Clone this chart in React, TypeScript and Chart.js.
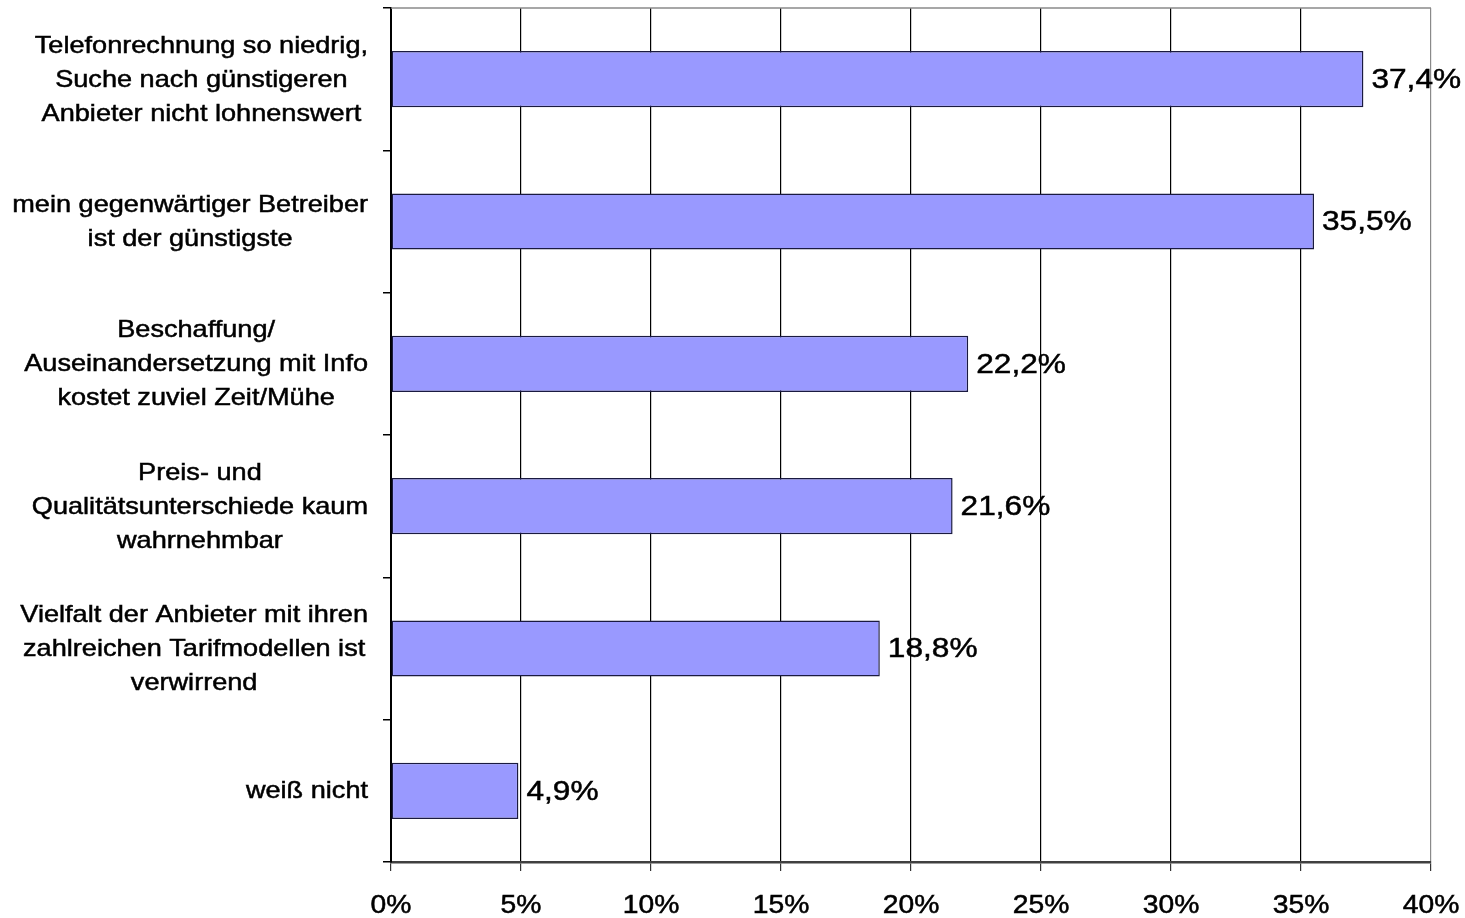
import React, { useEffect, useRef } from "react";
import { Chart, registerables } from "chart.js";

Chart.register(...registerables);

const categories: string[][] = [
  ["Telefonrechnung so niedrig,", "Suche nach günstigeren", "Anbieter nicht lohnenswert"],
  ["mein gegenwärtiger Betreiber", "ist der günstigste"],
  ["Beschaffung/", "Auseinandersetzung mit Info", "kostet zuviel Zeit/Mühe"],
  ["Preis- und", "Qualitätsunterschiede kaum", "wahrnehmbar"],
  ["Vielfalt der Anbieter mit ihren", "zahlreichen Tarifmodellen ist", "verwirrend"],
  ["weiß nicht"],
];
const values: number[] = [37.4, 35.5, 22.2, 21.6, 18.8, 4.9];
const xMin = 0;
const xMax = 40;
const xStep = 5;

const FONT = '"Liberation Sans", Arial, sans-serif';
const SX = 1.13;
const LH = 34;

function drawText(ctx: CanvasRenderingContext2D, text: string, x: number, y: number, align: CanvasTextAlign) {
  ctx.save();
  ctx.translate(x, y);
  ctx.scale(SX, 1);
  ctx.textAlign = align;
  ctx.fillText(text, 0, 0);
  ctx.lineWidth = 0.5;
  ctx.strokeStyle = "#000";
  ctx.strokeText(text, 0, 0);
  ctx.restore();
}

const textPlugin = {
  id: "textPlugin",
  afterDraw(chart: any) {
    const ctx: CanvasRenderingContext2D = chart.ctx;
    const xs = chart.scales.x;
    const ys = chart.scales.y;
    const area = chart.chartArea;
    ctx.save();
    // top border
    ctx.strokeStyle = "#8a8a8a";
    ctx.lineWidth = 1.5;
    ctx.beginPath();
    ctx.moveTo(area.left, area.top);
    ctx.lineTo(area.right, area.top);
    ctx.stroke();

    ctx.fillStyle = "#000";
    ctx.textBaseline = "middle";
    // category labels
    ctx.font = `24px ${FONT}`;
    categories.forEach((lines, i) => {
      const cy = ys.getPixelForValue(i);
      const w = Math.max(...lines.map((l) => ctx.measureText(l).width)) * SX;
      const cx = xs.left - 23 - w / 2;
      lines.forEach((l, j) => {
        const ly = cy + (j - (lines.length - 1) / 2) * LH + 1;
        drawText(ctx, l, cx, ly, "center");
      });
    });
    // value labels
    ctx.font = `28px ${FONT}`;
    const meta = chart.getDatasetMeta(0);
    meta.data.forEach((bar: any, i: number) => {
      const label = values[i].toFixed(1).replace(".", ",") + "%";
      drawText(ctx, label, bar.x + 8, bar.y + 1, "left");
    });
    // x tick labels
    ctx.font = `25px ${FONT}`;
    xs.ticks.forEach((t: any) => {
      drawText(ctx, `${t.value}%`, xs.getPixelForValue(t.value), xs.top + 44, "center");
    });
    ctx.restore();
  },
};

export default function App() {
  const ref = useRef<HTMLCanvasElement | null>(null);
  useEffect(() => {
    if (!ref.current) return;
    const chart = new Chart(ref.current, {
      type: "bar",
      data: {
        labels: categories.map((c) => c.join(" ")),
        datasets: [
          {
            data: values,
            backgroundColor: "#9999ff",
            borderColor: "#1a1a40",
            borderWidth: 1.5,
            borderSkipped: false,
            barPercentage: 0.395,
            categoryPercentage: 1,
          },
        ],
      },
      options: {
        indexAxis: "y",
        responsive: false,
        animation: false,
        devicePixelRatio: 1,
        layout: { padding: { left: 0, top: 8, right: 34, bottom: 0 } },
        plugins: {
          legend: { display: false },
          tooltip: { enabled: false },
          title: { display: false },
        },
        scales: {
          x: {
            type: "linear",
            min: xMin,
            max: xMax,
            ticks: { stepSize: xStep, display: false },
            grid: {
              color: (c: any) => (c.tick && c.tick.value === xMax ? "#8a8a8a" : "#000"),
              lineWidth: 1.2,
              drawTicks: true,
              tickLength: 9,
              tickColor: "#333",
            },
            border: { display: true, color: "#404040", width: 2.5 },
            afterFit: (s: any) => {
              s.height = 56;
            },
          },
          y: {
            type: "category",
            ticks: { display: false },
            grid: {
              display: true,
              drawOnChartArea: false,
              drawTicks: true,
              tickLength: 8,
              offset: true,
              color: "#000",
              lineWidth: 1.5,
            },
            border: { display: true, color: "#000", width: 2 },
            afterFit: (s: any) => {
              s.width = 391;
            },
          },
        },
      },
      plugins: [textPlugin],
    } as any);
    return () => chart.destroy();
  }, []);
  return (
    <div style={{ position: "absolute", left: 0, top: 0, width: 1465, height: 918, background: "#fff" }}>
      <canvas ref={ref} width={1465} height={918} />
    </div>
  );
}
